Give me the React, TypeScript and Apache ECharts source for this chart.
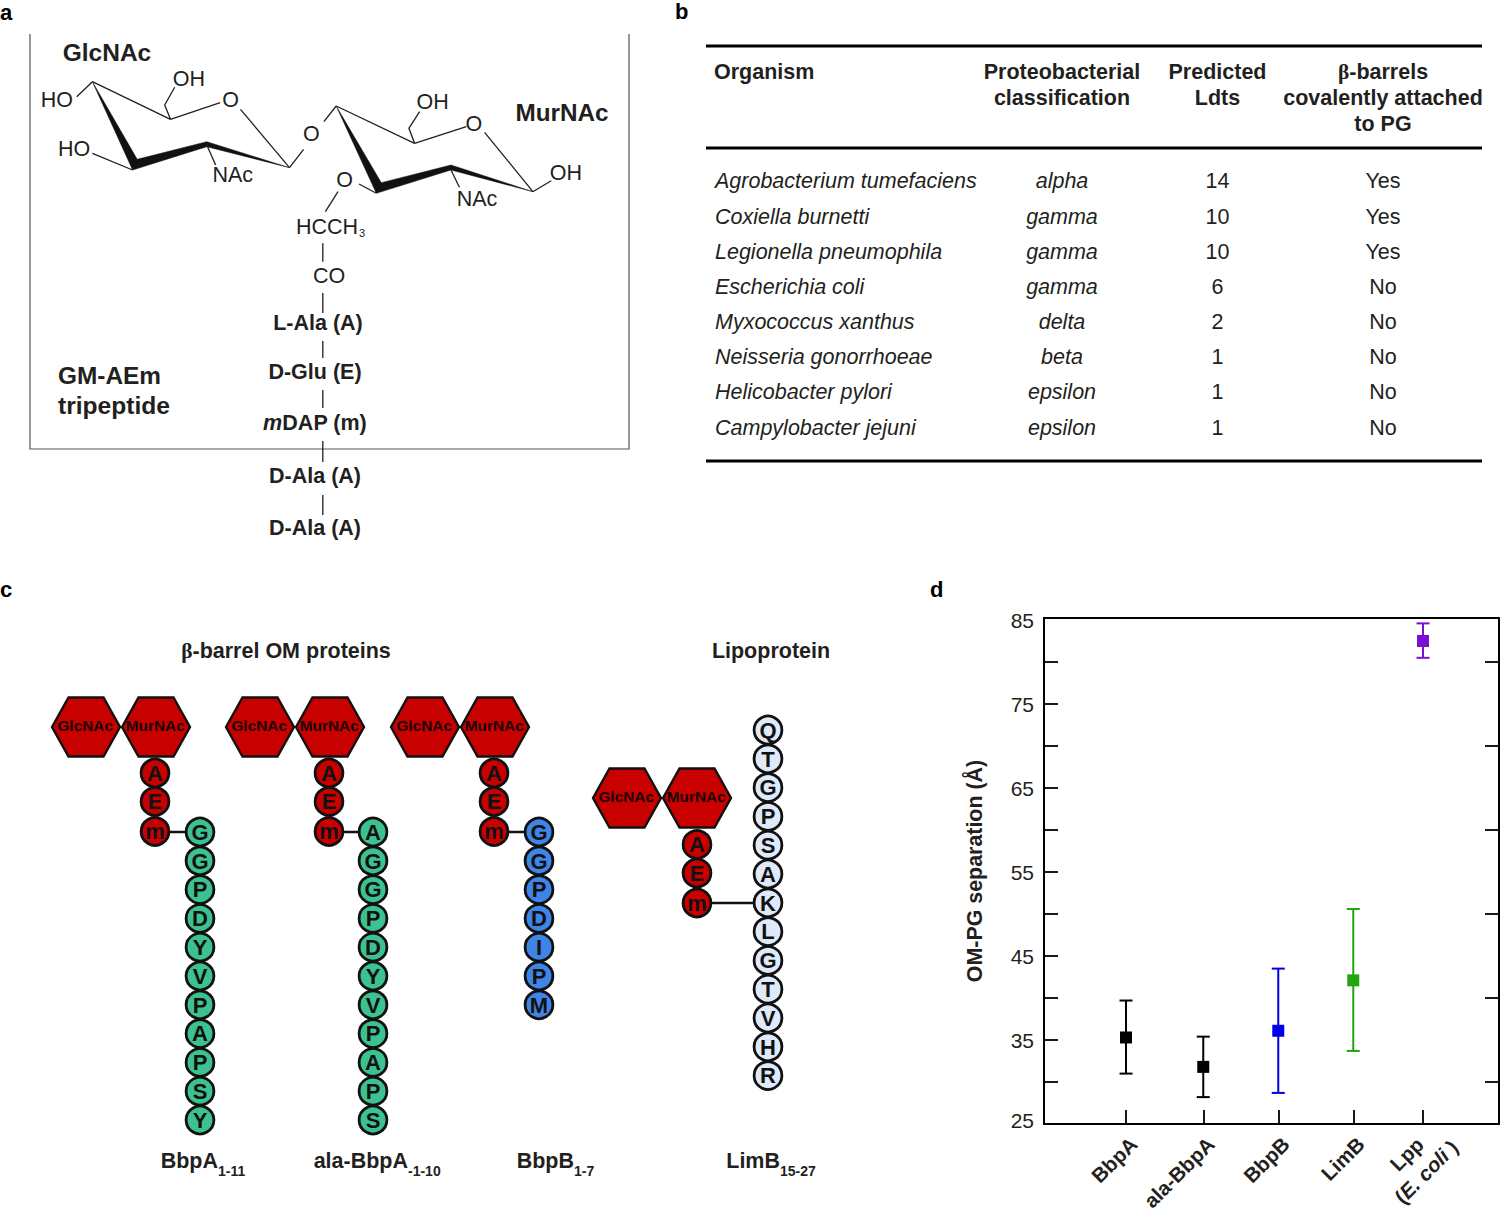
import React, { useEffect, useRef } from "react";
import * as echarts from "echarts";

// ---------- panel b: table ----------
const organisms = ["Agrobacterium tumefaciens", "Coxiella burnetti", "Legionella pneumophila", "Escherichia coli", "Myxococcus xanthus", "Neisseria gonorrhoeae", "Helicobacter pylori", "Campylobacter jejuni"];
const classes = ["alpha", "gamma", "gamma", "gamma", "delta", "beta", "epsilon", "epsilon"];
const ldts = ["14", "10", "10", "6", "2", "1", "1", "1"];
const barrels = ["Yes", "Yes", "Yes", "No", "No", "No", "No", "No"];

// ---------- panel c: residues ----------
const bbpA = ["G", "G", "P", "D", "Y", "V", "P", "A", "P", "S", "Y"];
const alaBbpA = ["A", "G", "G", "P", "D", "Y", "V", "P", "A", "P", "S"];
const bbpB = ["G", "G", "P", "D", "I", "P", "M"];
const limB = ["Q", "T", "G", "P", "S", "A", "K", "L", "G", "T", "V", "H", "R"];
const stem = ["A", "E", "m"];

// ---------- panel d: chart ----------
const proteins = ["BbpA", "ala-BbpA", "BbpB", "LimB", "Lpp"];
const xSlots = [1, 2.03, 3.03, 4.03, 4.96];
const means = [35.3, 31.8, 36.1, 42.1, 82.5];
const lows = [31.0, 28.2, 28.7, 33.7, 80.5];
const highs = [39.7, 35.4, 43.5, 50.6, 84.6];
const barColors = ["#000000", "#000000", "#0000e6", "#22a60e", "#7a0fd2"];
const yLabelValues = [25, 35, 45, 55, 65, 75, 85];
const yLongTicks = [30, 40, 50, 60, 70, 80];
const yShortTicks = [35, 45, 55, 65, 75];

const SANS = '"Liberation Sans", Arial, sans-serif';
const INK = "#231f20";

function T(text: string, x: number, y: number, size: number, o: any = {}) {
  return {
    type: "text",
    z: o.z ?? 5,
    style: {
      text, x, y,
      fontFamily: SANS,
      fontSize: size,
      fontWeight: o.bold ? "bold" : "normal",
      fontStyle: o.italic ? "italic" : "normal",
      fill: o.fill ?? INK,
      align: o.align ?? "center",
      verticalAlign: "middle",
      rich: o.rich,
    },
  };
}
function L(x1: number, y1: number, x2: number, y2: number, lw = 1.3, stroke = INK, z = 2) {
  return { type: "line", z, shape: { x1, y1, x2, y2 }, style: { stroke, lineWidth: lw } };
}
function P(points: number[][], lw = 1.3, stroke = INK) {
  return { type: "polyline", z: 2, shape: { points }, style: { stroke, lineWidth: lw, fill: "none" } };
}
function W(points: number[][]) {
  return { type: "polygon", z: 2, shape: { points }, style: { fill: "#111", stroke: "#111", lineWidth: 0.5 } };
}

function panelA(): any[] {
  const g: any[] = [];
  const A = 21.5;
  g.push(P([[30, 34], [30, 449], [629, 449], [629, 34]], 1.2, "#555"));
  g.push(T("GlcNAc", 107, 52, 24.5, { bold: true }));
  g.push(T("MurNAc", 562, 112, 24.3, { bold: true }));
  g.push(T("GM-AEm", 58, 375, 24.4, { bold: true, align: "left" }));
  g.push(T("tripeptide", 58, 405, 24.6, { bold: true, align: "left" }));
  // GlcNAc ring
  g.push(W([[92.4, 81.7], [137.2, 159.3], [206.8, 141.7], [289.5, 167.7], [206.8, 146.7], [132.6, 170]]));
  g.push(L(92.4, 81.7, 170.5, 119.3));
  g.push(L(170.5, 119.3, 220.2, 102.7));
  g.push(P([[170.5, 119.3], [164.7, 105], [174.7, 87.3]]));
  g.push(L(240.5, 109.3, 289.5, 167.7));
  g.push(L(289.5, 167.7, 303.6, 149.3));
  g.push(L(92.4, 81.7, 76.7, 96.7));
  g.push(L(92.4, 153.3, 132.6, 170));
  g.push(L(206.8, 145, 215.6, 165));
  g.push(T("HO", 56.8, 100, A));
  g.push(T("OH", 188.8, 78.5, A));
  g.push(T("O", 230.5, 100, A));
  g.push(T("HO", 74, 148.5, A));
  g.push(T("NAc", 232.8, 175, A));
  g.push(T("O", 311.3, 134, A));
  // MurNAc ring
  g.push(L(323.9, 121.7, 336.2, 106));
  g.push(W([[336.2, 106], [381.3, 182.7], [451, 165], [532.9, 191.7], [451, 170], [376.3, 193.3]]));
  g.push(L(336.2, 106, 414.6, 143.3));
  g.push(L(414.6, 143.3, 466.3, 126.7));
  g.push(P([[414.6, 143.3], [408.9, 128.3], [419.6, 111.7]]));
  g.push(L(484.6, 132.3, 532.9, 191.7));
  g.push(L(532.9, 191.7, 551.2, 180.7));
  g.push(L(451, 170, 459.4, 187.3));
  g.push(L(376.3, 193.3, 359.1, 184));
  g.push(L(338, 191.7, 325.4, 211.7));
  g.push(T("OH", 432.6, 102, A));
  g.push(T("O", 473.9, 123.5, A));
  g.push(T("OH", 565.8, 172.5, A));
  g.push(T("NAc", 477, 198.5, A));
  g.push(T("O", 344.6, 180, A));
  g.push(T("HCCH", 296, 226.5, A, { align: "left" }));
  g.push(T("3", 362, 233, 11));
  g.push(L(322.8, 243.3, 322.8, 261.7));
  g.push(T("CO", 329, 276, A));
  // stem
  const bars = [[293, 313], [341, 358], [390, 408], [441, 462], [495, 515]];
  bars.forEach((b) => g.push(L(322.8, b[0], 322.8, b[1])));
  g.push(T("L-Ala (A)", 318, 322.5, A, { bold: true }));
  g.push(T("D-Glu (E)", 315, 371.5, A, { bold: true }));
  g.push(T("{i|m}DAP (m)", 315, 422.5, A, { bold: true, rich: { i: { fontStyle: "italic", fontWeight: "bold", fontFamily: SANS, fontSize: A, fill: INK } } }));
  g.push(T("D-Ala (A)", 315, 475.5, A, { bold: true }));
  g.push(T("D-Ala (A)", 315, 527.5, A, { bold: true }));
  return g;
}

function panelB(): any[] {
  const g: any[] = [];
  [46, 148, 461].forEach((y) => g.push(L(706, y, 1482, y, 3, "#000")));
  const greek = { g: { fontFamily: "'Liberation Serif', serif", fontWeight: "bold", fontSize: 21.5, fill: INK }, b: { fontFamily: SANS, fontWeight: "bold", fontSize: 21.5, fill: INK } };
  g.push(T("Organism", 714, 72, 21.5, { bold: true, align: "left" }));
  g.push(T("Proteobacterial", 1062, 72, 21.5, { bold: true }));
  g.push(T("classification", 1062, 98, 21.5, { bold: true }));
  g.push(T("Predicted", 1217.5, 72, 21.5, { bold: true }));
  g.push(T("Ldts", 1217.5, 98, 21.5, { bold: true }));
  g.push(T("{g|β}{b|-barrels}", 1383, 72, 21.5, { bold: true, rich: greek }));
  g.push(T("covalently attached", 1383, 98, 21.5, { bold: true }));
  g.push(T("to PG", 1383, 124, 21.5, { bold: true }));
  const rows = [181, 216.5, 252, 287, 322, 357, 392, 427.5];
  organisms.forEach((o, i) => {
    g.push(T(o, 715, rows[i], 21.5, { italic: true, align: "left" }));
    g.push(T(classes[i], 1062, rows[i], 21.5, { italic: true }));
    g.push(T(ldts[i], 1217.5, rows[i], 21.5));
    g.push(T(barrels[i], 1383, rows[i], 21.5));
  });
  return g;
}

function hexagon(cx: number, cy: number, label: string): any[] {
  const R = 34, H = 29.5, F = 17.5;
  return [
    { type: "polygon", z: 3, shape: { points: [[cx - R, cy], [cx - F, cy - H], [cx + F, cy - H], [cx + R, cy], [cx + F, cy + H], [cx - F, cy + H]] }, style: { fill: "#c80000", stroke: "#111", lineWidth: 2.4 } },
    T(label, cx - 0.8, cy - 1.5, 15.4, { bold: true, fill: "#1a0000" }),
  ];
}
function residue(cx: number, cy: number, label: string, fill: string): any[] {
  return [
    { type: "circle", z: 3, shape: { cx, cy, r: 13.9 }, style: { fill, stroke: "#111", lineWidth: 2.8 } },
    T(label, cx, cy + 0.3, 22, { bold: true, fill: "#111" }),
  ];
}
const STEP = 28.8;
function construct(cxMur: number, cyHex: number, stemX: number, stemY0: number, chainX: number, chainY0: number, seq: string[], fill: string, linkY: number): any[] {
  let g: any[] = [];
  g = g.concat(hexagon(cxMur - 70, cyHex, "GlcNAc"), hexagon(cxMur, cyHex, "MurNAc"));
  g.push(L(stemX, linkY, chainX, linkY, 2.6, "#111", 2));
  const ys = [stemY0, stemY0 + 28.5, stemY0 + 58.5];
  stem.forEach((s, i) => { g = g.concat(residue(stemX, ys[i], s, "#c80000")); });
  seq.forEach((s, i) => { g = g.concat(residue(chainX, chainY0 + i * STEP, s, fill)); });
  return g;
}
function panelC(): any[] {
  let g: any[] = [];
  const greek = { g: { fontFamily: "'Liberation Serif', serif", fontWeight: "bold", fontSize: 21.5, fill: INK }, b: { fontFamily: SANS, fontWeight: "bold", fontSize: 21.5, fill: INK } };
  g.push(T("{g|β}{b|-barrel OM proteins}", 286, 651, 21.5, { bold: true, rich: greek }));
  g.push(T("Lipoprotein", 771, 651, 21.5, { bold: true }));
  const teal = "#3cc290", blue = "#3f85e8", pale = "#deeaf9";
  g = g.concat(construct(156, 727, 155, 773, 200, 832, bbpA, teal, 832));
  g = g.concat(construct(330, 727, 329, 773, 373, 832, alaBbpA, teal, 832));
  g = g.concat(construct(495, 727, 494, 773, 539, 832, bbpB, blue, 832));
  g = g.concat(construct(697, 798, 697, 844.5, 768, 730, limB, pale, 903));
  const names: [string, string, number][] = [["BbpA", "1-11", 218], ["ala-BbpA", "-1-10", 408], ["BbpB", "1-7", 574], ["LimB", "15-27", 780]];
  names.forEach(([n, s, x]) => {
    g.push(T(n, x, 1161, 21.5, { bold: true, align: "right" }));
    g.push(T(s, x, 1171, 14, { bold: true, align: "left" }));
  });
  return g;
}
function lppLabel(): any[] {
  const F = 20.5;
  const it = { fontStyle: "italic", fontWeight: "bold", fontFamily: SANS, fontSize: F, fill: INK };
  const pl = { fontWeight: "bold", fontFamily: SANS, fontSize: F, fill: INK };
  const rot = (text: string, x: number, y: number, rich?: any) => ({
    type: "text", z: 6, x, y, rotation: Math.PI / 4,
    style: { text, x: 0, y: 0, fontFamily: SANS, fontSize: F, fontWeight: "bold", fill: INK, align: "center", verticalAlign: "middle", rich },
  });
  return [rot(proteins[4], 1406.5, 1154), rot("{p|(}{it|E. coli}{p| )}", 1426, 1171.7, { it, p: pl })];
}

function App() {
  const ref = useRef<HTMLDivElement>(null);
  useEffect(() => {
    const chart = echarts.init(ref.current!, undefined, { renderer: "svg" });
    const letters = [["a", 0, 12], ["b", 675, 11], ["c", 0, 589], ["d", 930, 589]] as [string, number, number][];
    const labelItems: any[] = letters.map(([t, x, y]) => T(t, x, y, 22, { bold: true, align: "left", fill: "#000" }));
    const axisStyle = { show: true, onZero: false, lineStyle: { color: "#000", width: 2 } };
    const tickStyle = { color: "#000", width: 1.8 };
    const yBase = { type: "value", min: 25, max: 85.24, splitLine: { show: false } };
    chart.setOption({
      animation: false,
      backgroundColor: "#fff",
      textStyle: { fontFamily: SANS },
      grid: { left: 1044, top: 618, width: 455, height: 506, containLabel: false, outerBoundsMode: "none" },
      xAxis: [
        {
          type: "value", min: -0.0933, max: 5.973, position: "bottom",
          splitLine: { show: false },
          axisLine: { lineStyle: { color: "#000", width: 2 } },
          axisTick: { show: true, inside: true, length: 14, lineStyle: tickStyle, customValues: xSlots },
          axisLabel: {
            show: true, rotate: 45, margin: 9, fontSize: 20.5, fontWeight: "bold", color: INK, fontFamily: SANS,
            align: "right", verticalAlign: "top",
            customValues: xSlots.slice(0, 4),
            formatter: (v: number) => proteins[xSlots.indexOf(v)] ?? "",
          },
        },
        {
          type: "value", min: -0.0933, max: 5.973, position: "top",
          splitLine: { show: false }, axisTick: { show: false }, axisLabel: { show: false },
          axisLine: axisStyle,
        },
      ],
      yAxis: [
        {
          ...yBase, position: "left",
          name: "OM-PG separation (Å)", nameLocation: "middle", nameGap: 59, nameRotate: 90,
          nameTextStyle: { fontSize: 21.4, fontWeight: "bold", color: INK, fontFamily: SANS },
          axisLine: axisStyle,
          axisTick: { show: true, inside: true, length: 14, lineStyle: tickStyle, customValues: yLongTicks },
          axisLabel: {
            fontSize: 21, color: INK, fontFamily: SANS, margin: 10, customValues: yLabelValues,
            formatter: (v: number) => (v === 25 ? "{low|25}" : `{n|${v}}`),
            rich: {
              low: { fontSize: 21, color: INK, fontFamily: SANS, padding: [0, 0, 8, 0] },
              n: { fontSize: 21, color: INK, fontFamily: SANS, padding: [1, 0, 0, 0] },
            },
          },
        },
        {
          ...yBase, position: "left", axisLabel: { show: false }, axisLine: { show: false },
          axisTick: { show: true, inside: true, length: 7, lineStyle: tickStyle, customValues: yShortTicks },
        },
        {
          ...yBase, position: "right", axisLabel: { show: false }, axisLine: axisStyle,
          axisTick: { show: true, inside: true, length: 14, lineStyle: tickStyle, customValues: yLongTicks },
        },
        {
          ...yBase, position: "right", axisLabel: { show: false }, axisLine: { show: false },
          axisTick: { show: true, inside: true, length: 7, lineStyle: tickStyle, customValues: yShortTicks },
        },
      ],
      series: [
        {
          type: "custom", xAxisIndex: 0, yAxisIndex: 0, clip: false,
          data: proteins.map((_, i) => [xSlots[i], lows[i], highs[i]]),
          renderItem: (params: any, api: any) => {
            const lo = api.coord([api.value(0), api.value(1)]);
            const hi = api.coord([api.value(0), api.value(2)]);
            const cap = 6.5;
            const style = { stroke: barColors[params.dataIndex], lineWidth: 2, fill: "none" };
            return {
              type: "group",
              children: [
                { type: "line", shape: { x1: lo[0], y1: lo[1], x2: hi[0], y2: hi[1] }, style },
                { type: "line", shape: { x1: lo[0] - cap, y1: lo[1], x2: lo[0] + cap, y2: lo[1] }, style },
                { type: "line", shape: { x1: hi[0] - cap, y1: hi[1], x2: hi[0] + cap, y2: hi[1] }, style },
              ],
            };
          },
        },
        {
          type: "scatter", xAxisIndex: 0, yAxisIndex: 0, symbol: "rect", symbolSize: 12, z: 5,
          data: proteins.map((_, i) => ({ value: [xSlots[i], means[i]], itemStyle: { color: barColors[i], opacity: 1 } })),
        },
      ],
      graphic: { elements: [...labelItems, ...panelA(), ...panelB(), ...panelC(), ...lppLabel()] },
    });
    return () => chart.dispose();
  }, []);
  return <div ref={ref} style={{ position: "absolute", left: 0, top: 0, width: 1500, height: 1211 }} />;
}

export default App;
